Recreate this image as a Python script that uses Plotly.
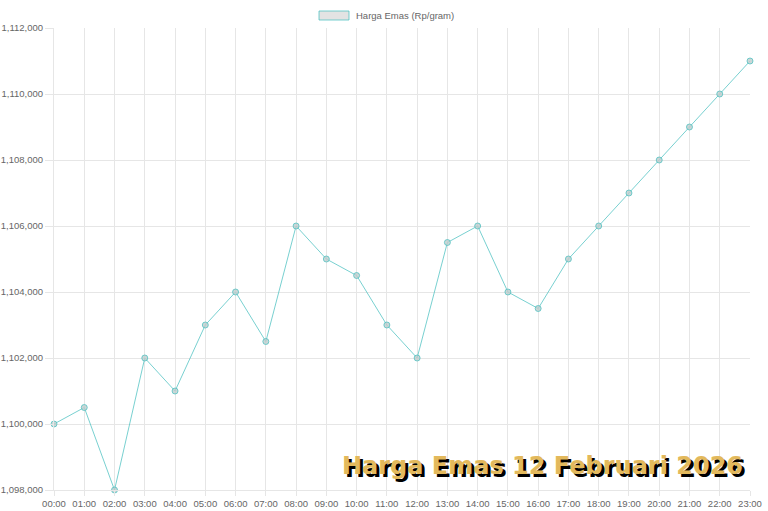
import plotly.graph_objects as go

hours = [f"{h:02d}:00" for h in range(24)]
prices = [1100000, 1100500, 1098000, 1102000, 1101000, 1103000, 1104000, 1102500,
          1106000, 1105000, 1104500, 1103000, 1102000, 1105500, 1106000, 1104000,
          1103500, 1105000, 1106000, 1107000, 1108000, 1109000, 1110000, 1111000]
series_name = "Harga Emas (Rp/gram)"
watermark = "Harga Emas 12 Februari 2026"

teal = "rgba(75,192,192,0.75)"
grid = "#e6e6e6"

fig = go.Figure()
fig.add_trace(go.Scatter(
    x=hours, y=prices, mode="lines+markers", name=series_name,
    line=dict(color=teal, width=1),
    marker=dict(size=6, color="rgba(190,205,205,0.8)", line=dict(color=teal, width=1)),
    cliponaxis=False, showlegend=False,
))

fig.update_layout(
    width=768, height=511,
    margin=dict(l=54, r=18, t=28, b=21),
    paper_bgcolor="white", plot_bgcolor="white",
    font=dict(family="Liberation Sans, Arial, sans-serif", size=9.5, color="#666"),
    xaxis=dict(type="category", range=[0, 23], showgrid=True, gridcolor=grid, gridwidth=1,
               ticks="outside", ticklen=5, tickcolor=grid, linecolor=grid, showline=True,
               zeroline=False, tickfont=dict(size=9.5), tickangle=0, automargin=False),
    yaxis=dict(range=[1098000, 1112000], dtick=2000, tickformat=",d", showgrid=True,
               gridcolor=grid, gridwidth=1, ticks="outside", ticklen=8, tickcolor=grid,
               linecolor=grid, showline=True, zeroline=False, tickfont=dict(size=9.5),
               automargin=False),
)

# legend (Chart.js style box)
fig.add_shape(type="rect", xref="paper", yref="paper",
              x0=(319 - 54) / 696, x1=(349 - 54) / 696,
              y0=(511 - 21 - 20) / 462, y1=(511 - 21 - 11) / 462,
              fillcolor="rgba(220,220,220,0.8)", line=dict(color=teal, width=1))
fig.add_annotation(text=series_name, xref="paper", yref="paper",
                   x=(354 - 54) / 696, y=(511 - 21 - 15.5) / 462,
                   xanchor="left", yanchor="middle", showarrow=False,
                   font=dict(size=9.5, color="#666"))

# watermark with shadow
for dx, dy, col in [(3, 3, "black"), (0, 0, "#e3b95c")]:
    fig.add_annotation(text=watermark, xref="paper", yref="paper",
                       x=(745 - 54) / 696, y=(511 - 21 - 466) / 462,
                       xanchor="right", yanchor="middle", showarrow=False,
                       xshift=dx, yshift=-dy,
                       font=dict(family="DejaVu Sans", size=24, color=col, weight=900))

fig.write_html("out.html", config={"displayModeBar": False},
               post_script="document.body.style.margin='0';document.body.style.overflow='hidden';")
